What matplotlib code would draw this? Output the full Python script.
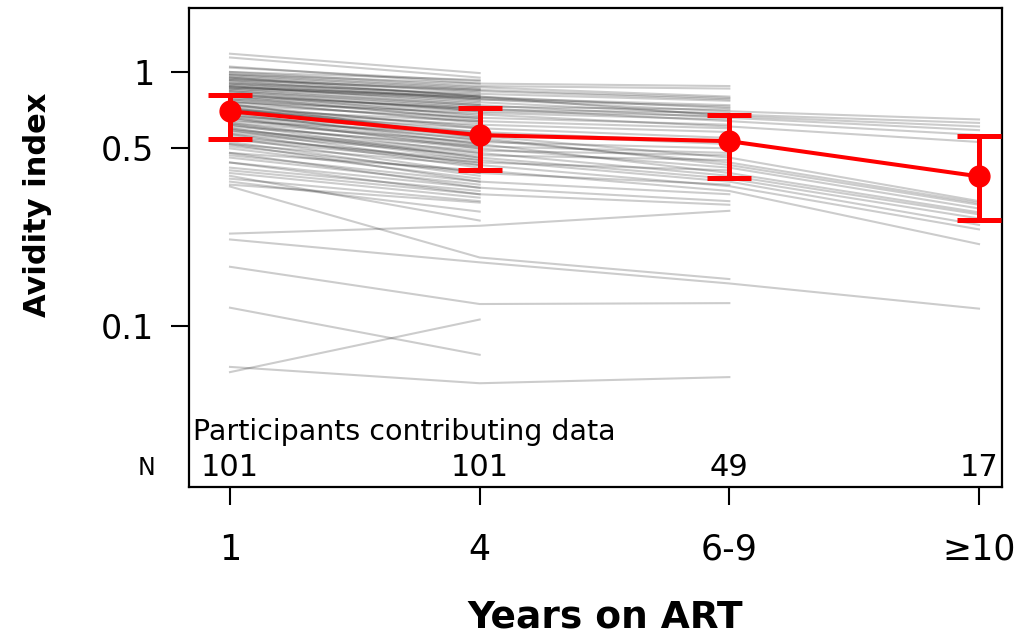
import numpy as np
import matplotlib.pyplot as plt

# time points on ART
visits = ["1", "4", "6-9", "\u226510"]
n_contrib = [101, 101, 49, 17]

# individual avidity index per participant (NaN = no sample at that visit)
nan = np.nan
ai_y1 = [0.92, 0.88, 0.95, 0.85, 0.80, 0.78, 0.72, 0.68, 0.75, 0.62, 0.66, 0.58, 0.60, 0.55, 0.52, 0.48, 0.219,
         0.231, 0.354, 0.171, 0.069, 1.05, 1.00, 0.98, 0.96, 0.94, 0.90, 0.93, 0.87, 0.86, 0.84, 0.82, 0.79,
         0.76, 0.74, 0.71, 0.70, 0.69, 0.67, 0.64, 0.63, 0.61, 0.59, 0.57, 0.54, 0.51, 0.47, 0.44, 0.41,
         0.0658, 0.118, 0.36, 0.37, 0.39, 1.18, 1.14, 1.04, 1.00, 0.98, 0.97, 0.95, 0.93, 0.91, 0.90, 0.89,
         0.88, 0.87, 0.86, 0.84, 0.83, 0.82, 0.81, 0.80, 0.78, 0.77, 0.76, 0.74, 0.73, 0.72, 0.71, 0.70,
         0.69, 0.67, 0.66, 0.65, 0.63, 0.62, 0.60, 0.59, 0.57, 0.56, 0.55, 0.53, 0.52, 0.50, 0.48, 0.46,
         0.44, 0.42, 0.40, 0.38]
ai_y4 = [0.78, 0.76, 0.80, 0.74, 0.72, 0.68, 0.56, 0.54, 0.55, 0.50, 0.52, 0.48, 0.46, 0.45, 0.43, 0.41, 0.178,
         0.248, 0.186, 0.122, 0.0595, 0.90, 0.88, 0.87, 0.85, 0.84, 0.82, 0.80, 0.79, 0.78, 0.73, 0.71, 0.70,
         0.69, 0.66, 0.64, 0.62, 0.60, 0.58, 0.57, 0.53, 0.51, 0.49, 0.47, 0.44, 0.40, 0.37, 0.35, 0.33,
         0.106, 0.077, 0.306, 0.282, 0.26, 0.99, 0.95, 0.92, 0.93, 0.90, 0.86, 0.83, 0.85, 0.81, 0.77, 0.79,
         0.75, 0.80, 0.74, 0.72, 0.70, 0.67, 0.71, 0.65, 0.66, 0.63, 0.64, 0.60, 0.61, 0.58, 0.57, 0.55,
         0.52, 0.54, 0.50, 0.51, 0.48, 0.46, 0.45, 0.43, 0.42, 0.44, 0.40, 0.39, 0.37, 0.38, 0.35, 0.36,
         0.33, 0.34, 0.32, 0.31]
ai_y69 = [0.70, 0.68, 0.67, 0.66, 0.64, 0.61, 0.46, 0.44, 0.43, 0.42, 0.40, 0.39, 0.38, 0.37, 0.355, 0.34, 0.147,
          0.284, 0.153, 0.123, 0.0629, 0.88, 0.86, 0.80, 0.79, 0.78, 0.77, 0.72, 0.74, 0.73, 0.71, 0.69, 0.67,
          0.65, 0.62, 0.60, 0.58, 0.55, 0.53, 0.52, 0.50, 0.48, 0.47, 0.45, 0.41, 0.36, 0.33, 0.31, 0.30] + [nan] * 52
ai_y10 = [0.65, 0.63, 0.61, 0.59, 0.565, 0.53, 0.31, 0.305, 0.30, 0.29, 0.28, 0.275, 0.265, 0.25, 0.24, 0.21,
          0.117] + [nan] * 84

# group estimate with 95% CI
mean_ai = [0.70, 0.564, 0.534, 0.388]
ci_lo = [0.543, 0.41, 0.381, 0.262]
ci_hi = [0.81, 0.721, 0.676, 0.558]

fig = plt.figure(figsize=(10.28, 6.38), dpi=100)
ax = fig.add_axes([0.1839, 0.2367, 0.7908, 0.7508])

x = np.arange(len(visits))
indiv = np.array([ai_y1, ai_y4, ai_y69, ai_y10], dtype=float)
for i in range(indiv.shape[1]):
    ax.plot(x, indiv[:, i], color="black", alpha=0.2, lw=1.5, zorder=1)

yerr = [np.array(mean_ai) - np.array(ci_lo), np.array(ci_hi) - np.array(mean_ai)]
ax.errorbar(x, mean_ai, yerr=yerr, color="red", lw=2.9, elinewidth=3.6, capsize=16, capthick=3.6,
            marker="o", markersize=15, zorder=3)

ax.set_yscale("log")
ax.set_ylim(0.02323, 1.786)
ax.set_xlim(-0.164, 3.092)
ax.set_yticks([0.1, 0.5, 1])
ax.set_yticklabels(["0.1", "0.5", "1"])
ax.minorticks_off()
ax.set_xticks(x)
ax.set_xticklabels(visits)
ax.tick_params(axis="y", labelsize=24, length=13, width=1.5, pad=12)
ax.tick_params(axis="x", labelsize=25, length=13, width=1.5, pad=20)
for s in ax.spines.values():
    s.set_linewidth(1.6)

# participants row inside the box
ax.text(-0.15, 0.0383, "Participants contributing data", fontsize=20.5, va="center", ha="left")
for xi, n in zip(x, n_contrib):
    ax.text(xi, 0.0276, str(n), fontsize=22, ha="center", va="center")
fig.text(147 / 1028, 1 - 468 / 638, "N", fontsize=17, ha="center", va="center")

fig.text(38 / 1028, 1 - 205 / 638, "Avidity index", fontsize=22, fontweight="bold", rotation=90,
         ha="center", va="center")
fig.text(605 / 1028, 1 - 617 / 638, "Years on ART", fontsize=27, fontweight="bold", ha="center", va="center")

fig.savefig("out.png", dpi=100)
